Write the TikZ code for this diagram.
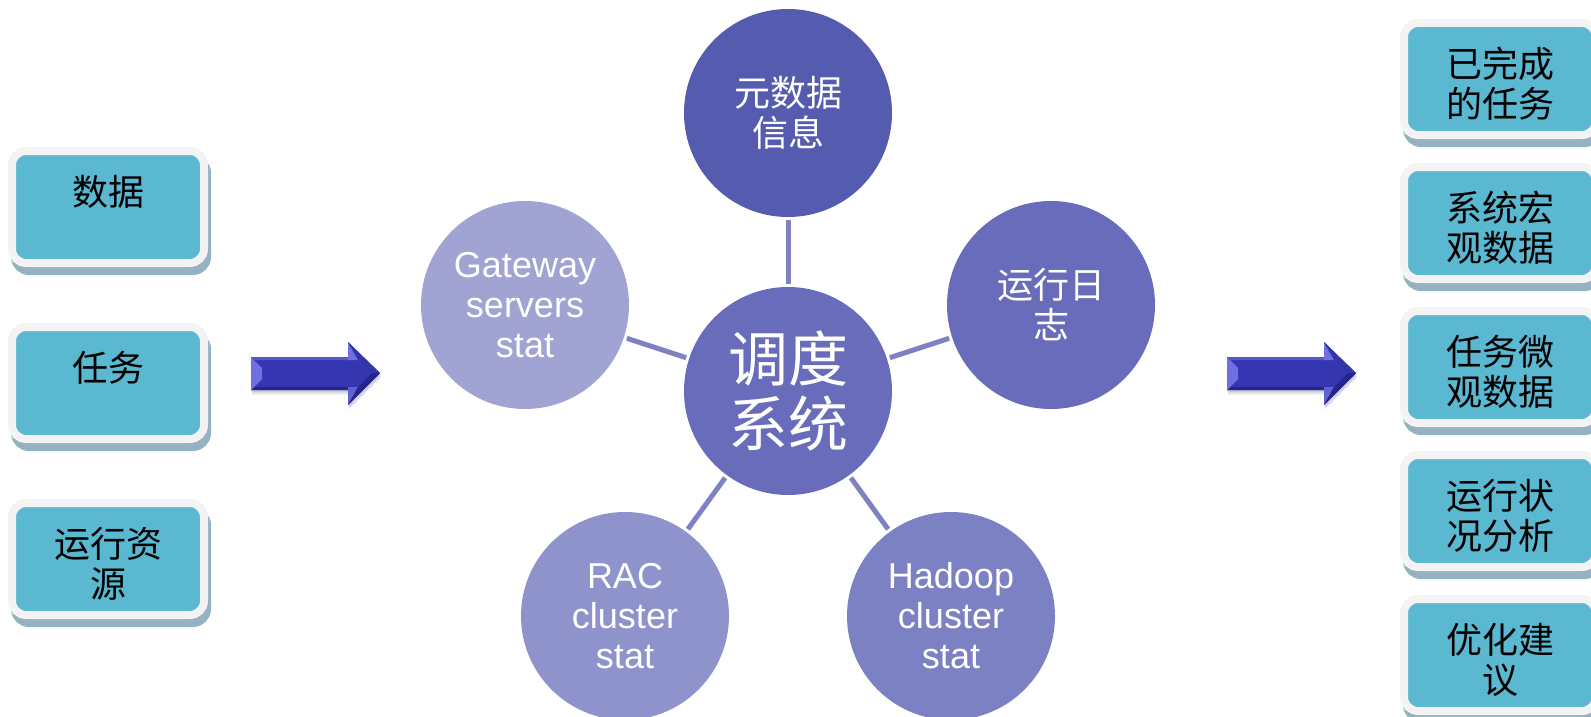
\documentclass[tikz,border=0pt]{standalone}
\usepackage{fontspec}
\setmainfont{Liberation Sans}
\newfontfamily\cjk{Noto Sans CJK SC}
\usetikzlibrary{shadows}

\definecolor{boxcyan}{HTML}{5BB8D1}
\definecolor{boxrim}{HTML}{F3F3F3}
\definecolor{boxshade}{HTML}{92B3BF}
\definecolor{hubc}{HTML}{686CBA}
\definecolor{metac}{HTML}{555CB0}
\definecolor{logc}{HTML}{686CBA}
\definecolor{gatec}{HTML}{A1A3D3}
\definecolor{racc}{HTML}{8F93CC}
\definecolor{hadc}{HTML}{7C81C4}
\definecolor{spokec}{HTML}{7E81C2}
\definecolor{arrowc}{HTML}{3636B0}
\definecolor{arrowlt}{HTML}{7070E4}
\definecolor{arrowdk}{HTML}{25258E}

\tikzset{
  box/.style={rounded corners=14pt, fill=boxcyan, draw=boxrim, line width=8pt,
    minimum width=192pt, minimum height=112pt, inner sep=0pt,
    general shadow={fill=boxshade, draw=boxshade, line width=8pt,
      shadow xshift=3pt, shadow yshift=-8pt}},
  btxt/.style={anchor=north, inner sep=0pt, align=center, text=black,
    font=\cjk\fontsize{36}{40}\selectfont},
  bubble/.style={circle, minimum size=208pt, inner sep=0pt, text=white, align=center},
  cjkt/.style={font=\cjk\fontsize{36}{40}\selectfont},
  latt/.style={font=\fontsize{36}{40}\selectfont},
  spoke/.style={draw=spokec, line width=5pt, shorten <=3pt, shorten >=3pt},
}

\begin{document}
\begin{tikzpicture}[x=1pt, y=-1pt]
\useasboundingbox (0,0) rectangle (1591,717);

% input boxes
\node[box] (in1) at (108,207) {};
\node[box] (in2) at (108,383) {};
\node[box] (in3) at (108,559) {};
\node[btxt] (in1t) at ([yshift=-28pt]in1.north) {数据};
\node[btxt] (in2t) at ([yshift=-28pt]in2.north) {任务};
\node[btxt] (in3t) at ([yshift=-28pt]in3.north) {运行资\\源};

% output boxes
\node[box] (out1) at (1500,79) {};
\node[box] (out2) at (1500,223) {};
\node[box] (out3) at (1500,367) {};
\node[box] (out4) at (1500,511) {};
\node[box] (out5) at (1500,655) {};
\node[btxt] (out1t) at ([yshift=-28pt]out1.north) {已完成\\的任务};
\node[btxt] (out2t) at ([yshift=-28pt]out2.north) {系统宏\\观数据};
\node[btxt] (out3t) at ([yshift=-28pt]out3.north) {任务微\\观数据};
\node[btxt] (out4t) at ([yshift=-28pt]out4.north) {运行状\\况分析};
\node[btxt] (out5t) at ([yshift=-28pt]out5.north) {优化建\\议};

% scheduler hub and its sources
\node[bubble, fill=hubc, font=\cjk\fontsize{60}{65}\selectfont] (hub) at (788,391) {调度\\系统};
\node[bubble, fill=metac, cjkt] (meta) at (788,113) {元数据\\信息};
\node[bubble, fill=logc, cjkt] (log) at (1051,305) {运行日\\志};
\node[bubble, fill=gatec, latt] (gate) at (525,305) {Gateway\\servers\\stat};
\node[bubble, fill=racc, latt] (rac) at (625,616) {RAC\\cluster\\stat};
\node[bubble, fill=hadc, latt] (had) at (951,616) {Hadoop\\cluster\\stat};

\draw[spoke] (hub) -- (meta);
\draw[spoke] (hub) -- (log);
\draw[spoke] (hub) -- (gate);
\draw[spoke] (hub) -- (rac);
\draw[spoke] (hub) -- (had);

% bevelled block arrows
\foreach \x in {251,1227}{
  % soft shadow
  \foreach \o/\a in {5/.05,3.5/.07,2/.09}{
    \fill[black, opacity=\a] (\x+1,357+\o) -- (\x+98,357+\o) -- (\x+98,342+\o) -- (\x+130,373+\o)
      -- (\x+98,405+\o) -- (\x+98,390+\o) -- (\x+1,390+\o) -- cycle;
  }
  % body
  \fill[arrowc] (\x,357) -- (\x+97,357) -- (\x+97,342) -- (\x+129,373)
    -- (\x+97,405) -- (\x+97,390) -- (\x,390) -- cycle;
  % top and bottom edges of the shaft
  \fill[arrowlt!60!arrowc] (\x,357) -- (\x+97,357) -- (\x+97,360) -- (\x+4,360) -- cycle;
  \fill[arrowdk] (\x,390) -- (\x+97,390) -- (\x+97,387) -- (\x+4,387) -- cycle;
  % bevel on the tail end
  \fill[arrowlt] (\x,357) -- (\x+11,368) -- (\x+11,379) -- (\x,390) -- cycle;
  % bevels on the back of the head
  \fill[arrowlt] (\x+97,342) -- (\x+107,360) -- (\x+97,360) -- cycle;
  \fill[arrowlt!75!arrowc] (\x+97,405) -- (\x+107,387) -- (\x+97,387) -- cycle;
  % shaded lower face of the head
  \fill[arrowdk] (\x+129,373) -- (\x+97,405) -- (\x+107,387) -- (\x+121,373) -- cycle;
  \fill[arrowc!85!arrowdk] (\x+129,373) -- (\x+97,342) -- (\x+107,360) -- (\x+121,373) -- cycle;
}
\end{tikzpicture}
\end{document}
